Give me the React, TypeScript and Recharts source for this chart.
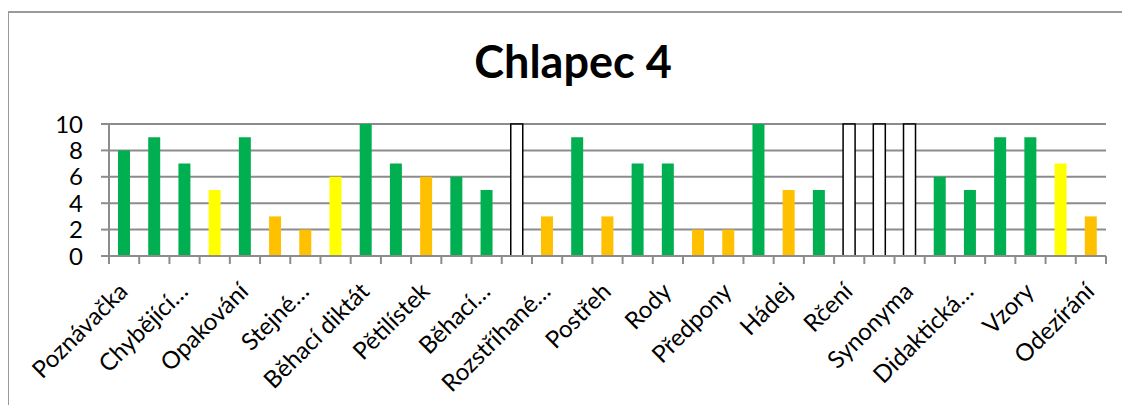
import React from 'react';
import { BarChart, Bar, XAxis, YAxis, CartesianGrid, Cell } from 'recharts';

// activity names (only every other one is labelled on the axis)
const categories = [
  'Poznávačka', '', 'Chybějící…', '', 'Opakování', '', 'Stejné…', '', 'Běhací diktát', '',
  'Pětilístek', '', 'Běhací…', '', 'Rozstříhané…', '', 'Postřeh', '', 'Rody', '',
  'Předpony', '', 'Hádej', '', 'Rčení', '', 'Synonyma', '', 'Didaktická…', '',
  'Vzory', '', 'Odezírání',
];

const scores = [
  8, 9, 7, 5, 9, 3, 2, 6, 10, 7,
  6, 6, 5, 10, 3, 9, 3, 7, 7, 2,
  2, 10, 5, 5, 10, 10, 10, 6, 5, 9,
  9, 7, 3,
];

// g = green, y = yellow, o = orange, n = not rated (empty box)
const ratings = [
  'g', 'g', 'g', 'y', 'g', 'o', 'o', 'y', 'g', 'g',
  'o', 'g', 'g', 'n', 'o', 'g', 'o', 'g', 'g', 'o',
  'o', 'g', 'o', 'g', 'n', 'n', 'n', 'g', 'g', 'g',
  'g', 'y', 'o',
];

const yTicks = [0, 2, 4, 6, 8, 10];

const data = categories.map((name, i) => ({ name, value: scores[i], rating: ratings[i] }));

const colors: Record<string, { fill: string; stroke: string }> = {
  g: { fill: '#00b050', stroke: 'none' },
  y: { fill: '#ffff00', stroke: 'none' },
  o: { fill: '#ffc000', stroke: 'none' },
  n: { fill: '#ffffff', stroke: '#000000' },
};

const W = 1130;
const H = 405;
const MARGIN = { top: 124, right: 24, bottom: 0, left: 0 };
const Y_AXIS_W = 109;
const X_AXIS_H = 149;
const AXIS_Y = H - MARGIN.bottom - X_AXIS_H;
const BAND = (W - MARGIN.left - MARGIN.right - Y_AXIS_W) / categories.length;
const GRID = '#8c8c8c';
const BORDER = '#9a9a9a';
const FONT = 'Lato, sans-serif';

const CategoryTick = (props: any) => {
  const { x, payload, index } = props;
  const half = BAND / 2;
  return (
    <g>
      <line x1={x - half} x2={x - half} y1={AXIS_Y} y2={AXIS_Y + 8} stroke={GRID} strokeWidth={2} />
      {index === categories.length - 1 && (
        <line x1={x + half} x2={x + half} y1={AXIS_Y} y2={AXIS_Y + 8} stroke={GRID} strokeWidth={2} />
      )}
      {payload.value && (
        <g transform={`translate(${x + 5},${AXIS_Y + 37})`}>
          <text textAnchor="end" transform="rotate(-45)" fontSize={24} fontFamily={FONT} fill="#000">
            {payload.value}
          </text>
        </g>
      )}
    </g>
  );
};

export default function App() {
  return (
    <div style={{ position: 'relative', width: W, height: H, marginLeft: -8, marginTop: -8, background: '#fff' }}>
      {/* chart area frame: only top and left edges are visible */}
      <div style={{ position: 'absolute', left: 7, top: 11, width: W - 7, height: 2, background: BORDER }} />
      <div style={{ position: 'absolute', left: 7, top: 11, width: 2, height: H - 11, background: BORDER }} />
      <div
        style={{
          position: 'absolute', left: 0, top: 38, width: 1146, textAlign: 'center',
          fontFamily: FONT, fontWeight: 700, fontSize: 45, lineHeight: '46px', color: '#000',
        }}
      >
        Chlapec 4
      </div>
      <div style={{ position: 'absolute', left: 0, top: 0 }}>
        <BarChart width={W} height={H} data={data} margin={MARGIN}>
          <CartesianGrid vertical={false} stroke={GRID} strokeWidth={2} />
          <XAxis
            dataKey="name"
            interval={0}
            height={X_AXIS_H}
            tickLine={false}
            axisLine={{ stroke: GRID, strokeWidth: 2 }}
            tick={<CategoryTick />}
          />
          <YAxis
            domain={[0, 10]}
            ticks={yTicks}
            interval={0}
            width={Y_AXIS_W}
            tickSize={8}
            tickMargin={18}
            axisLine={{ stroke: GRID, strokeWidth: 2 }}
            tickLine={{ stroke: GRID, strokeWidth: 2 }}
            tick={{ fontSize: 24, fontFamily: FONT, fill: '#000' }}
          />
          <Bar dataKey="value" barSize={12} isAnimationActive={false}>
            {data.map((d, i) => (
              <Cell key={i} fill={colors[d.rating].fill} stroke={colors[d.rating].stroke} strokeWidth={1.5} />
            ))}
          </Bar>
        </BarChart>
      </div>
    </div>
  );
}
